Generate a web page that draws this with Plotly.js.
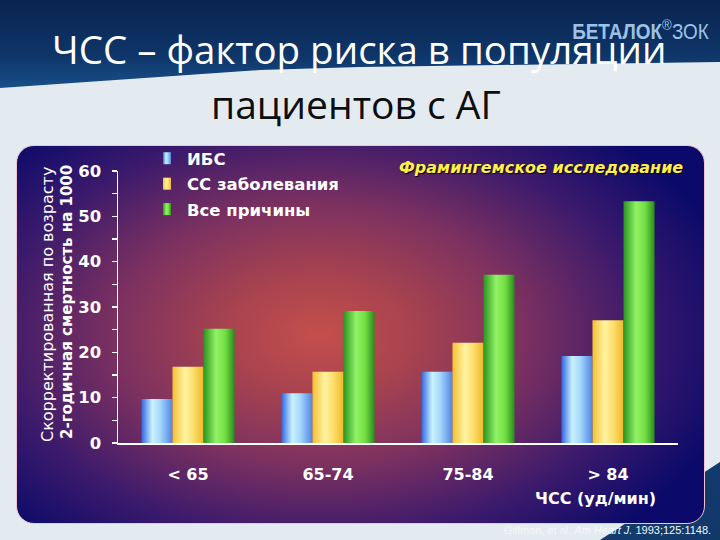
<!DOCTYPE html>
<html>
<head>
<meta charset="utf-8">
<script src="https://cdn.plot.ly/plotly-3.0.1.min.js"></script>
<style>
  html, body { margin:0; padding:0; }
  body { width:720px; height:540px; overflow:hidden; position:relative; background:#e3ebf0; }
  #header { position:absolute; left:0; top:0; width:720px; height:100px;
    background: linear-gradient(to bottom, #0a2450 0%, #0e3568 55%, #1c5894 100%);
    clip-path: polygon(0 0, 720px 0, 720px 62px, 500px 65px, 360px 67px, 260px 70px, 130px 79px, 0 88px); }
  #corner { position:absolute; left:0; top:0; width:720px; height:540px;
    background: linear-gradient(135deg, #2a5d92, #12386a);
    clip-path: polygon(600px 540px, 720px 462px, 720px 540px); }
  #panel { position:absolute; left:16px; top:145px; width:687px; height:377px; border-radius:18px;
    border:1.5px solid #efc4cf;
    background: radial-gradient(ellipse 62% 72% at 44% 50%, #c44f4c 0%, #a8434f 22%, #7c3160 48%, #3c1a6c 75%, #0b0a6a 100%); }
  #chart { position:absolute; left:0; top:0; width:720px; height:540px; }
</style>
</head>
<body>
<div id="header"></div>
<div id="corner"></div>
<div id="panel"></div>
<div id="chart"></div>
<script>
// ---- data ----
const categories = ['< 65', '65-74', '75-84', '> 84'];
const seriesNames = ['ИБС', 'СС заболевания', 'Все причины'];
const ibsValues = [9.7, 11.0, 15.7, 19.2];
const ssValues = [16.8, 15.7, 22.1, 27.1];
const allValues = [25.2, 29.1, 37.1, 53.3];
const yTickValues = [0, 10, 20, 30, 40, 50, 60];
const titleLine1 = 'ЧСС – фактор риска в популяции';
const titleLine2 = 'пациентов с АГ';
const yTitle1 = 'Скорректированная по возрасту';
const yTitle2 = '2-годичная смертность на 1000';
const xTitle = 'ЧСС (уд/мин)';
const studyLabel = 'Фрамингемское исследование';
const logoText = '<b>БЕТАЛОК</b><sup>®</sup>ЗОК';
const citation = 'Gillman, et al. <i>Am Heart J.</i> 1993;125:1148.';

// ---- layout helpers (pixel -> paper) ----
const L = 118, R = 678, T = 171, B = 443;
const px = v => (v - L) / (R - L);
const py = v => (B - v) / (B - T);

const baseColors = ['#7fb2f0', '#f8d45a', '#5cc83a'];
const seriesValues = [ibsValues, ssValues, allValues];

const data = seriesValues.map((vals, i) => ({
  type: 'bar',
  x: categories,
  y: vals,
  name: seriesNames[i],
  legendgroup: 'g' + i,
  marker: { color: baseColors[i], line: { width: 0 } },
  hoverinfo: 'skip'
}));

const white = '#ffffff';
const layout = {
  width: 720, height: 540,
  margin: { l: L, r: 720 - R, t: T, b: 540 - B, pad: 0 },
  paper_bgcolor: 'rgba(0,0,0,0)',
  plot_bgcolor: 'rgba(0,0,0,0)',
  barmode: 'group',
  bargap: 0.335,
  bargroupgap: 0,
  showlegend: true,
  legend: {
    x: px(147), xanchor: 'left', y: py(141), yanchor: 'top',
    bgcolor: 'rgba(0,0,0,0)', traceorder: 'grouped', tracegroupgap: 1,
    font: { family: 'DejaVu Sans', size: 16.5, color: white, weight: 'bold' }
  },
  xaxis: {
    range: [-0.5, 3.5], showline: true, linecolor: white, linewidth: 2,
    ticks: '', showgrid: false, zeroline: false, fixedrange: true,
    ticklabelstandoff: 16,
    tickfont: { family: 'DejaVu Sans', size: 16, color: white, weight: 'bold' }
  },
  yaxis: {
    range: [0, 60], tickvals: yTickValues, showline: true, linecolor: white, linewidth: 1.5,
    ticks: 'outside', ticklen: 5, tickcolor: white, tickwidth: 1.5,
    minor: { dtick: 5, ticks: 'outside', ticklen: 5, tickcolor: white, tickwidth: 1.5, showgrid: false },
    showgrid: false, zeroline: false, fixedrange: true, ticklabelstandoff: 7,
    tickfont: { family: 'DejaVu Sans', size: 16.5, color: white, weight: 'bold' }
  },
  annotations: [
    { text: titleLine1, xref: 'paper', yref: 'paper', x: px(359), y: py(49), xanchor: 'center', yanchor: 'middle',
      showarrow: false, font: { family: 'Open Sans', size: 38.5, color: white } },
    { text: titleLine2, xref: 'paper', yref: 'paper', x: px(356), y: py(103), xanchor: 'center', yanchor: 'middle',
      showarrow: false, font: { family: 'Open Sans', size: 39, color: '#0d0d0d' } },
    { text: logoText, xref: 'paper', yref: 'paper', x: px(640), y: py(30), xanchor: 'center', yanchor: 'middle',
      showarrow: false, font: { family: 'Liberation Sans', size: 22, color: '#9cc3e6' } },
    { text: yTitle1, xref: 'paper', yref: 'paper', x: px(47), y: py(305), xanchor: 'center', yanchor: 'middle',
      textangle: -90, showarrow: false, font: { family: 'DejaVu Sans', size: 16, color: white } },
    { text: '<b>' + yTitle2 + '</b>', xref: 'paper', yref: 'paper', x: px(67), y: py(302), xanchor: 'center', yanchor: 'middle',
      textangle: -90, showarrow: false, font: { family: 'DejaVu Sans', size: 15, color: white } },
    { text: studyLabel, xref: 'paper', yref: 'paper', x: px(541), y: py(167), xanchor: 'center', yanchor: 'middle',
      showarrow: false, font: { family: 'DejaVu Sans', size: 16, color: '#fff04a', weight: 'bold', style: 'italic', shadow: '1px 1px 1px #000' } },
    { text: xTitle, xref: 'paper', yref: 'paper', x: px(658), y: py(498), xanchor: 'right', yanchor: 'middle',
      showarrow: false, font: { family: 'DejaVu Sans', size: 16, color: white, weight: 'bold' } },
    { text: citation, xref: 'paper', yref: 'paper', x: px(713), y: py(530), xanchor: 'right', yanchor: 'middle',
      showarrow: false, font: { family: 'Liberation Sans', size: 11, color: '#f4f6f8' } }
  ]
};

const gradStops = [
  [['0', '#2f66e2'], ['0.35', '#c9f2ff'], ['0.6', '#a6d8fc'], ['1', '#4f84e4']],
  [['0', '#f4c032'], ['0.4', '#fff3a2'], ['0.65', '#fde070'], ['1', '#efb928']],
  [['0', '#2a9420'], ['0.4', '#92f266'], ['0.7', '#72de42'], ['1', '#2a8a1e']]
];

Plotly.newPlot('chart', data, layout, { displayModeBar: false, staticPlot: true }).then(gd => {
  const ns = 'http://www.w3.org/2000/svg';
  const svg = gd.querySelector('.main-svg');
  let defs = svg.querySelector('defs');
  if (!defs) { defs = document.createElementNS(ns, 'defs'); svg.insertBefore(defs, svg.firstChild); }
  gradStops.forEach((stops, i) => {
    const g = document.createElementNS(ns, 'linearGradient');
    g.setAttribute('id', 'barGrad' + i);
    g.setAttribute('x1', '0'); g.setAttribute('x2', '1'); g.setAttribute('y1', '0'); g.setAttribute('y2', '0');
    stops.forEach(([o, c]) => {
      const s = document.createElementNS(ns, 'stop');
      s.setAttribute('offset', o); s.setAttribute('stop-color', c);
      g.appendChild(s);
    });
    defs.appendChild(g);
  });
  gd.querySelectorAll('.barlayer .trace').forEach((t, i) => {
    t.querySelectorAll('path').forEach(p => { p.style.fill = 'url(#barGrad' + i + ')'; });
  });
  gd.querySelectorAll('.legend .traces').forEach((t, i) => {
    const p = t.querySelector('.legendpoints path');
    if (p) { p.setAttribute('d', 'M4,6H-4V-6H4Z'); p.style.fill = 'url(#barGrad' + i + ')'; p.style.stroke = 'none'; }
  });
  // narrow the logo lettering (condensed face not installed)
  const logo = gd.querySelectorAll('.annotation')[2];
  if (logo) {
    const txt = logo.querySelector('text');
    if (txt) { txt.style.transformBox = 'fill-box'; txt.style.transformOrigin = 'center'; txt.style.transform = 'scaleX(0.86)'; }
  }
});
</script>
</body>
</html>
